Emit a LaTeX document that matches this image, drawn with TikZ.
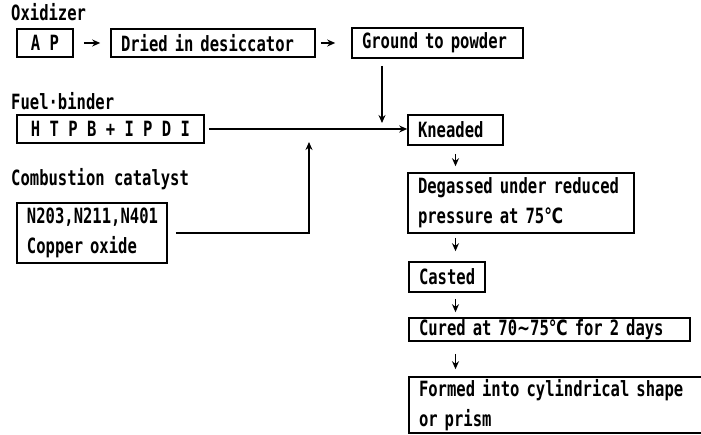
\documentclass[tikz,border=0pt]{standalone}
\usepackage{fontspec}
\newfontfamily\fmono[FakeStretch=0.74]{DejaVu Sans Mono Bold}
\newfontfamily\fsym[FakeStretch=0.74]{DejaVu Sans Bold}
\usetikzlibrary{arrows.meta}
\newcommand{\degC}{{\fsym ℃}}
\newcommand{\wave}{{\fsym ∼}}
\begin{document}
\begin{tikzpicture}[x=1pt,y=-1pt,
  every node/.style={font=\fmono\fontsize{21}{30}\selectfont},
  pbox/.style n args={3}{draw,line width=1.6pt,minimum width=#1,minimum height=#2,
    text width=#3,inner xsep=10pt,inner ysep=0pt,align=left},
  cbox/.style n args={2}{draw,line width=1.6pt,minimum width=#1,minimum height=#2,
    inner sep=0pt,align=center},
  lbl/.style={anchor=base west,inner sep=0pt},
  arr/.style={line width=1.5pt,-{Stealth[length=8pt,width=7pt]}}]
\useasboundingbox (0,0) rectangle (701,435);
\clip (0,0) rectangle (701,435);
% labels
\node[lbl] (lox) at (11,21) {Oxidizer};
\node[lbl] (lfb) at (11,110) {Fuel·binder};
\node[lbl] (lcc) at (11,186) {Combustion catalyst};
% boxes
\node[cbox={56pt}{28pt}] (ap) at (45,43) {A P};
\node[pbox={204pt}{28pt}{184pt}] (dried) at (213,43) {Dried in desiccator};
\node[pbox={171pt}{30pt}{151pt}] (ground) at (437.5,43) {Ground to powder};
\node[cbox={187pt}{28pt}] (htpb) at (110.5,129) {H T P B + I P D I};
\node[pbox={150pt}{60pt}{130pt}] (cat) at (92,233) {N203,N211,N401\\Copper oxide};
\node[pbox={95pt}{30pt}{75pt}] (knead) at (455.5,130) {Kneaded};
\node[pbox={224pt}{60pt}{206pt}] (degas) at (521,203) {\mbox{Degassed under reduced}\\pressure at 75\degC};
\node[pbox={76pt}{30pt}{56pt}] (cast) at (447,277) {Casted};
\node[pbox={281pt}{23pt}{261pt}] (cure) at (549.5,329.5) {\mbox{Cured at 70\wave75\degC{} for 2 days}};
\node[pbox={331pt}{56pt}{311pt}] (form) at (574.5,405) {\mbox{Formed into cylindrical shape}\\or prism};
% helper coordinates
\coordinate (gA) at (382,123);
\coordinate (cA) at (309,142);
% connectors
\draw[arr,shorten <=10pt,shorten >=10pt] (ap.east) -- (dried.west);
\draw[arr,shorten <=5pt,shorten >=16pt] (dried.east) -- (ground.west);
\draw[arr,shorten <=7pt] (ground.south -| gA) -- (gA);
\draw[arr,shorten <=4pt] (htpb.east) -- (knead.west |- htpb.east);
\draw[arr,shorten <=8pt] (cat.east) -| (cA);
\draw[arr,shorten <=8pt,shorten >=6pt] (knead.south) -- (knead.south |- degas.north);
\draw[arr,shorten <=4pt,shorten >=10pt] (knead.south |- degas.south) -- (knead.south |- cast.north);
\draw[arr,shorten <=6pt,shorten >=5pt] (knead.south |- cast.south) -- (knead.south |- cure.north);
\draw[arr,shorten <=12pt,shorten >=7pt] (knead.south |- cure.south) -- (knead.south |- form.north);
\end{tikzpicture}
\end{document}
